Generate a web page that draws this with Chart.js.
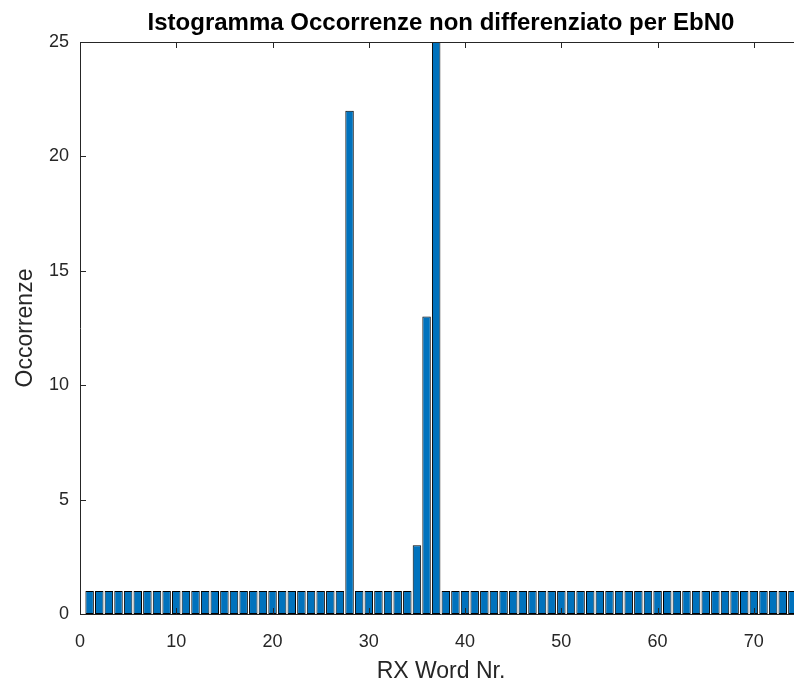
<!DOCTYPE html>
<html>
<head>
<meta charset="utf-8">
<script src="https://cdn.jsdelivr.net/npm/chart.js@4/dist/chart.umd.min.js"></script>
<style>
  html, body { margin: 0; padding: 0; background: #fff; overflow: hidden; }
  canvas { display: block; }
</style>
</head>
<body>
<canvas id="isto" width="812" height="686"></canvas>
<script>
// RX word index (x) and number of occurrences (y)
const wordNr = [
  1, 2, 3, 4, 5, 6, 7, 8, 9, 10, 11, 12, 13, 14, 15, 16, 17, 18, 19, 20,
  21, 22, 23, 24, 25, 26, 27, 28, 29, 30, 31, 32, 33, 34, 35, 36, 37, 38, 39, 40,
  41, 42, 43, 44, 45, 46, 47, 48, 49, 50, 51, 52, 53, 54, 55, 56, 57, 58, 59, 60,
  61, 62, 63, 64, 65, 66, 67, 68, 69, 70, 71, 72, 73, 74
];
const occorrenze = [
  1, 1, 1, 1, 1, 1, 1, 1, 1, 1, 1, 1, 1, 1, 1, 1, 1, 1, 1, 1,
  1, 1, 1, 1, 1, 1, 1, 22, 1, 1, 1, 1, 1, 1, 3, 13, 25, 1, 1, 1,
  1, 1, 1, 1, 1, 1, 1, 1, 1, 1, 1, 1, 1, 1, 1, 1, 1, 1, 1, 1,
  1, 1, 1, 1, 1, 1, 1, 1, 1, 1, 1, 1, 1, 1
];
const xLimits = [0, 75];
const yLimits = [0, 25];
const xTickStep = 10;
const yTickStep = 5;
const titolo = 'Istogramma Occorrenze non differenziato per EbN0';

const axisColor = '#262626';
const fontFamily = '"Liberation Sans", Arial, Helvetica, sans-serif';

// inward tick marks, top/right edges of the box and the title centred on the axes
const boxTicks = {
  id: 'boxTicks',
  afterDraw(chart) {
    const { ctx, chartArea: a, scales: { x, y } } = chart;
    const len = 6;
    ctx.save();
    ctx.strokeStyle = axisColor;
    ctx.lineWidth = 1;
    ctx.beginPath();
    ctx.moveTo(a.left, a.top + 0.5);
    ctx.lineTo(a.right, a.top + 0.5);
    ctx.moveTo(a.right - 0.5, a.top);
    ctx.lineTo(a.right - 0.5, a.bottom);
    x.ticks.forEach(t => {
      const px = Math.round(x.getPixelForValue(t.value)) + 0.5;
      ctx.moveTo(px, a.bottom);
      ctx.lineTo(px, a.bottom - len);
      ctx.moveTo(px, a.top);
      ctx.lineTo(px, a.top + len);
    });
    y.ticks.forEach(t => {
      const py = Math.round(y.getPixelForValue(t.value)) + 0.5;
      ctx.moveTo(a.left, py);
      ctx.lineTo(a.left + len, py);
      ctx.moveTo(a.right, py);
      ctx.lineTo(a.right - len, py);
    });
    ctx.stroke();

    ctx.fillStyle = '#000000';
    ctx.font = 'bold 24px ' + fontFamily;
    ctx.textAlign = 'center';
    ctx.textBaseline = 'alphabetic';
    ctx.fillText(titolo, (a.left + a.right) / 2, 30);
    ctx.restore();
  }
};

new Chart(document.getElementById('isto').getContext('2d'), {
  type: 'bar',
  data: {
    datasets: [{
      data: wordNr.map((n, i) => ({ x: n, y: occorrenze[i] })),
      backgroundColor: '#0072BD',
      borderColor: '#000000',
      borderWidth: 1,
      borderSkipped: false,
      barPercentage: 0.88,
      categoryPercentage: 1.0
    }]
  },
  options: {
    responsive: false,
    animation: false,
    layout: { padding: { left: 0, right: 10, top: 42, bottom: 0 } },
    plugins: {
      legend: { display: false },
      tooltip: { enabled: false },
      title: { display: false }
    },
    scales: {
      x: {
        type: 'linear',
        min: xLimits[0],
        max: xLimits[1],
        offset: false,
        grid: { display: false, drawTicks: false },
        border: { display: true, color: axisColor, width: 1 },
        ticks: {
          stepSize: xTickStep,
          color: axisColor,
          padding: 17,
          font: { family: fontFamily, size: 18 }
        },
        // keep only the round ticks (drop the axis limit 75)
        afterBuildTicks(scale) {
          scale.ticks = scale.ticks.filter(t => t.value % xTickStep === 0);
        },
        title: {
          display: true,
          text: 'RX Word Nr.',
          color: axisColor,
          font: { family: fontFamily, size: 23 },
          padding: { top: 0, bottom: 1 }
        },
        afterFit(scale) { scale.height = 72; }
      },
      y: {
        min: yLimits[0],
        max: yLimits[1],
        grid: { display: false, drawTicks: false },
        border: { display: true, color: axisColor, width: 1 },
        ticks: {
          stepSize: yTickStep,
          color: axisColor,
          padding: 11,
          font: { family: fontFamily, size: 18 }
        },
        title: {
          display: true,
          text: 'Occorrenze',
          color: axisColor,
          font: { family: fontFamily, size: 23 },
          padding: { top: 12, bottom: 0 }
        },
        afterFit(scale) { scale.width = 80; }
      }
    }
  },
  plugins: [boxTicks]
});
</script>
</body>
</html>
